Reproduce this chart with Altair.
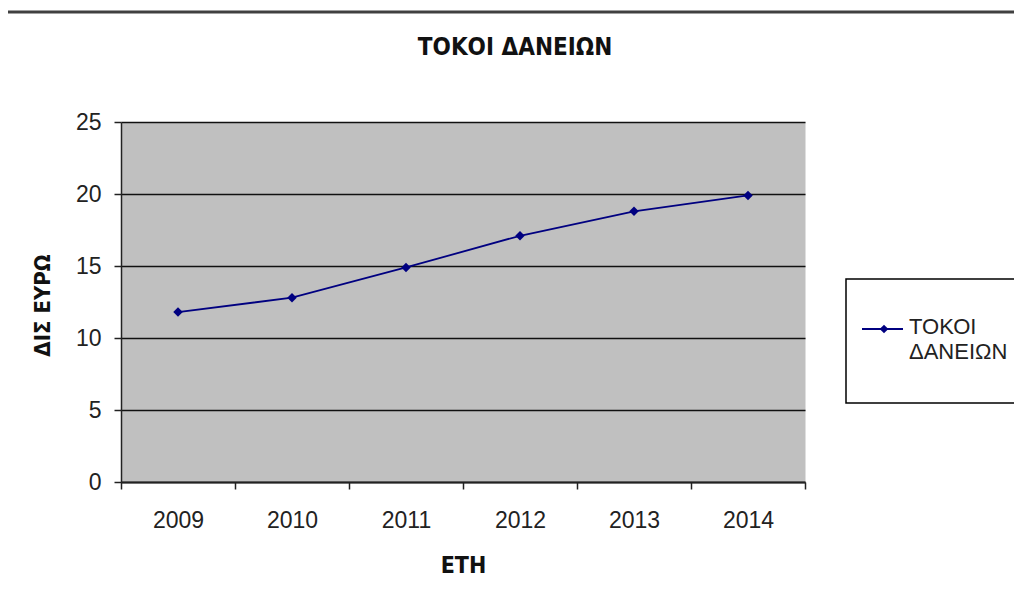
import altair as alt
import pandas as pd

years = ["2009", "2010", "2011", "2012", "2013", "2014"]
values = [11.8, 12.8, 14.9, 17.1, 18.8, 19.9]
series_name = "ΤΟΚΟΙ ΔΑΝΕΙΩΝ"
chart_title = "ΤΟΚΟΙ ΔΑΝΕΙΩΝ"
x_title = "ΕΤΗ"
y_title = "ΔΙΣ ΕΥΡΩ"
y_ticks = [0, 5, 10, 15, 20, 25]

df = pd.DataFrame({"year": years, "value": values})
legend_df = pd.DataFrame({"series": [series_name]})
title_df = pd.DataFrame({"title": [chart_title]})

FONT = "Liberation Sans"
BOLDFONT = "DejaVu Sans Condensed, Liberation Sans"
NAVY = "#000080"
W, H = 684, 360

x_enc = alt.X(
    "year:O",
    scale=alt.Scale(type="band", paddingInner=0, paddingOuter=0),
    axis=alt.Axis(
        title=x_title, labelAngle=0, tickBand="extent", grid=False,
        labelFont=FONT, labelFontSize=23, labelColor="#222222",
        labelPadding=31, labelBaseline="middle",
        tickSize=7, tickColor="#222222", tickWidth=1.5,
        domainColor="#222222", domainWidth=2,
        titleFont=BOLDFONT, titleFontSize=23, titleFontWeight="bold",
        titleX=W / 2, titleY=83, titleBaseline="middle", titleColor="#111111",
    ),
)
y_enc = alt.Y(
    "value:Q",
    scale=alt.Scale(domain=[0, 25], nice=False, zero=True),
    axis=alt.Axis(
        title=y_title, values=y_ticks, grid=True, gridColor="#111111", gridWidth=1.3,
        labelFont=FONT, labelFontSize=23, labelColor="#222222", labelPadding=13,
        tickSize=7, tickColor="#222222", tickWidth=1.5,
        domainColor="#222222", domainWidth=1.5,
        titleFont=BOLDFONT, titleFontSize=22, titleFontWeight="bold",
        titleX=-79, titleY=H / 2 + 3, titleAngle=-90, titleBaseline="middle",
        titleAlign="center", titleColor="#111111",
    ),
)

line = alt.Chart(df).mark_line(color=NAVY, strokeWidth=1.8).encode(x=x_enc, y=y_enc)
pts = alt.Chart(df).mark_point(shape="diamond", filled=True, color=NAVY, size=90, opacity=1).encode(
    x="year:O", y="value:Q"
)

top_rule = alt.Chart(legend_df).mark_rule(color="#404040", strokeWidth=3).encode(
    x=alt.value(-130), x2=alt.value(W + 240), y=alt.value(-110)
)
title_text = alt.Chart(title_df).mark_text(
    align="center", baseline="middle", font=BOLDFONT, fontSize=24, fontWeight="bold", color="#111111"
).encode(x=alt.value(394), y=alt.value(-74), text="title:N")

box = alt.Chart(legend_df).mark_rect(fill="white", stroke="black", strokeWidth=1.5).encode(
    x=alt.value(725), x2=alt.value(960), y=alt.value(157), y2=alt.value(281)
)
leg_rule = alt.Chart(legend_df).mark_rule(color=NAVY, strokeWidth=2.2).encode(
    x=alt.value(741), x2=alt.value(782), y=alt.value(207)
)
leg_pt = alt.Chart(legend_df).mark_point(shape="diamond", filled=True, color=NAVY, size=75, opacity=1).encode(
    x=alt.value(763), y=alt.value(207)
)
leg_text = alt.Chart(legend_df).mark_text(
    align="left", baseline="middle", font=FONT, fontSize=22, color="#222222",
    lineBreak=" ", lineHeight=25,
).encode(x=alt.value(788), y=alt.value(205), text="series:N")

chart = alt.layer(top_rule, title_text, line, pts, box, leg_rule, leg_pt, leg_text).properties(
    width=W, height=H,
    autosize=alt.AutoSizeParams(type="none"),
    padding={"left": 113, "top": 114, "right": 209, "bottom": 106},
    background="white",
).configure_view(fill="#C0C0C0", stroke="transparent")

chart.save("out.html", embed_options={"renderer": "svg", "actions": False})
